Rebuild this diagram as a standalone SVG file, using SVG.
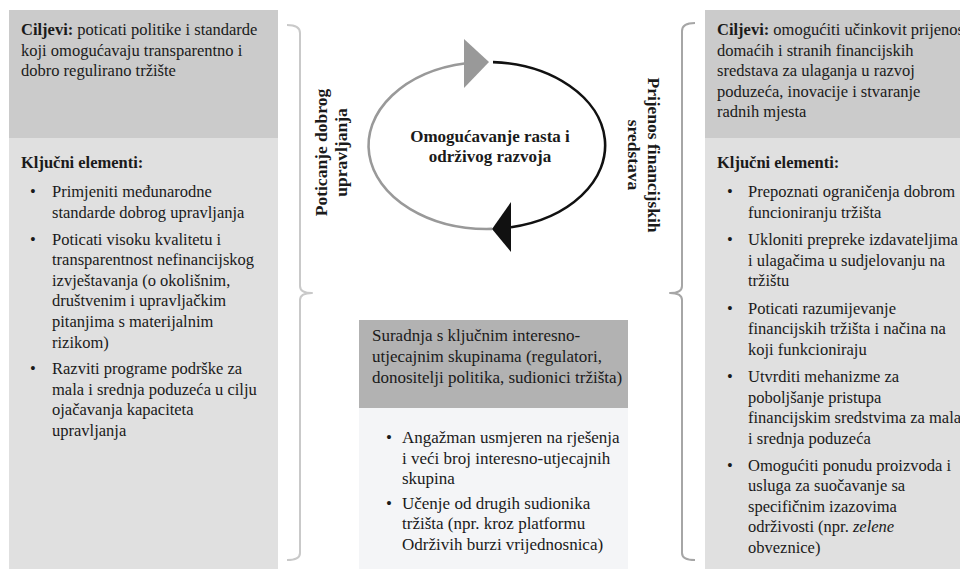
<svg xmlns="http://www.w3.org/2000/svg" width="960" height="569" viewBox="0 0 960 569">
<style>
text{font-family:"Liberation Serif","Times New Roman",serif;fill:#1a1a1a}
.b{font-size:16.5px}
.c{font-size:17px}
.h{font-weight:bold}
.lbl{font-size:17.5px;font-weight:bold;text-anchor:middle}
.mid{text-anchor:middle}
.brk{fill:none;stroke-width:2;stroke-linejoin:round}
.arc{fill:none;stroke-width:2.6}
</style>
<rect width="960" height="569" fill="#ffffff"/>

<g id="left-panel">
<rect x="9" y="10" width="269" height="128" fill="#cbcbcb"/>
<rect x="9" y="138" width="269" height="431" fill="#e0e0e0"/>
<text class="b" x="21" y="35"><tspan class="h">Ciljevi:</tspan> poticati politike i standarde</text>
<text class="b" x="21" y="55.6">koji omogućavaju transparentno i</text>
<text class="b" x="21" y="76.2">dobro regulirano tržište</text>
<text class="b h" x="21" y="168">Ključni elementi:</text>
<text class="b mid" x="33" y="197">•</text>
<text class="b" x="52" y="197">Primjeniti međunarodne</text>
<text class="b" x="52" y="217.6">standarde dobrog upravljanja</text>
<text class="b mid" x="33" y="244.5">•</text>
<text class="b" x="52" y="244.5">Poticati visoku kvalitetu i</text>
<text class="b" x="52" y="265.1">transparentnost nefinancijskog</text>
<text class="b" x="52" y="285.7">izvještavanja (o okolišnim,</text>
<text class="b" x="52" y="306.3">društvenim i upravljačkim</text>
<text class="b" x="52" y="326.9">pitanjima s materijalnim</text>
<text class="b" x="52" y="347.5">rizikom)</text>
<text class="b mid" x="33" y="374">•</text>
<text class="b" x="52" y="374">Razviti programe podrške za</text>
<text class="b" x="52" y="394.6">mala i srednja poduzeća u cilju</text>
<text class="b" x="52" y="415.2">ojačavanja kapaciteta</text>
<text class="b" x="52" y="435.8">upravljanja</text>
</g>

<g id="right-panel">
<rect x="705" y="10" width="255" height="128" fill="#cbcbcb"/>
<rect x="705" y="138" width="255" height="431" fill="#e0e0e0"/>
<text class="b" x="717" y="35"><tspan class="h">Ciljevi:</tspan> omogućiti učinkovit prijenos</text>
<text class="b" x="717" y="55.6">domaćih i stranih financijskih</text>
<text class="b" x="717" y="76.2">sredstava za ulaganja u razvoj</text>
<text class="b" x="717" y="96.8">poduzeća, inovacije i stvaranje</text>
<text class="b" x="717" y="117.4">radnih mjesta</text>
<text class="b h" x="717" y="168">Ključni elementi:</text>
<text class="b mid" x="730" y="197">•</text>
<text class="b" x="748" y="197">Prepoznati ograničenja dobrom</text>
<text class="b" x="748" y="217.6">funcioniranju tržišta</text>
<text class="b mid" x="730" y="245">•</text>
<text class="b" x="748" y="245">Ukloniti prepreke izdavateljima</text>
<text class="b" x="748" y="265.6">i ulagačima u sudjelovanju na</text>
<text class="b" x="748" y="286.2">tržištu</text>
<text class="b mid" x="730" y="313.5">•</text>
<text class="b" x="748" y="313.5">Poticati razumijevanje</text>
<text class="b" x="748" y="334.1">financijskih tržišta i načina na</text>
<text class="b" x="748" y="354.7">koji funkcioniraju</text>
<text class="b mid" x="730" y="382">•</text>
<text class="b" x="748" y="382">Utvrditi mehanizme za</text>
<text class="b" x="748" y="402.6">poboljšanje pristupa</text>
<text class="b" x="748" y="423.2">financijskim sredstvima za mala</text>
<text class="b" x="748" y="443.8">i srednja poduzeća</text>
<text class="b mid" x="730" y="470.5">•</text>
<text class="b" x="748" y="470.5">Omogućiti ponudu proizvoda i</text>
<text class="b" x="748" y="491.1">usluga za suočavanje sa</text>
<text class="b" x="748" y="511.7">specifičnim izazovima</text>
<text class="b" x="748" y="532.3">održivosti (npr. <tspan font-style="italic">zelene</tspan></text>
<text class="b" x="748" y="552.9">obveznice)</text>
</g>

<g id="center-box">
<rect x="359" y="320" width="269" height="88" fill="#b2b2b2"/>
<rect x="359" y="408" width="269" height="161" fill="#f4f5f7"/>
<text class="c" x="372" y="340.5">Suradnja s ključnim interesno-</text>
<text class="c" x="372" y="361.5">utjecajnim skupinama (regulatori,</text>
<text class="c" x="372" y="382.5">donositelji politika, sudionici tržišta)</text>
<text class="c mid" x="389" y="443">•</text>
<text class="c" x="402" y="443">Angažman usmjeren na rješenja</text>
<text class="c" x="402" y="463.7">i veći broj interesno-utjecajnih</text>
<text class="c" x="402" y="484.4">skupina</text>
<text class="c mid" x="389" y="508.5">•</text>
<text class="c" x="402" y="508.5">Učenje od drugih sudionika</text>
<text class="c" x="402" y="529.2">tržišta (npr. kroz platformu</text>
<text class="c" x="402" y="549.9">Održivih burzi vrijednosnica)</text>
</g>

<g id="center-label">
<text class="c h mid" x="490" y="142">Omogućavanje rasta i</text>
<text class="c h mid" x="490" y="162">održivog razvoja</text>
</g>

<g id="label-governance">
<text class="lbl" transform="translate(327,152.5) rotate(-90)"><tspan x="0" y="0">Poticanje dobrog</tspan><tspan x="0" y="20">upravljanja</tspan></text>
</g>

<g id="label-finance">
<text class="lbl" transform="translate(648,155) rotate(90)"><tspan x="0" y="0">Prijenos financijskih</tspan><tspan x="0" y="20">sredstava</tspan></text>
</g>

<g id="connectors">
<path class="brk" stroke="#c9c9c9" d="M287,25 Q300,25 300,33 L300,286 Q300,293 312,293 Q300,293 300,300 L300,553 Q300,560 287,560"/>
<path class="brk" stroke="#a6a6a6" d="M695,23 Q682,23 682,31 L682,286 Q682,293 670,293 Q682,293 682,300 L682,553 Q682,560 695,560"/>
<path class="arc" stroke="#999999" d="M492,228.9 A118.5,83.5 0 0 1 466,63.3"/>
<path class="arc" stroke="#111111" d="M493,62.1 A118.5,83.5 0 0 1 511,227.2"/>
<polygon points="464,39 464,88 489,62" fill="#999999"/>
<polygon points="511,202 511,252 492,229" fill="#111111"/>
</g>
</svg>
